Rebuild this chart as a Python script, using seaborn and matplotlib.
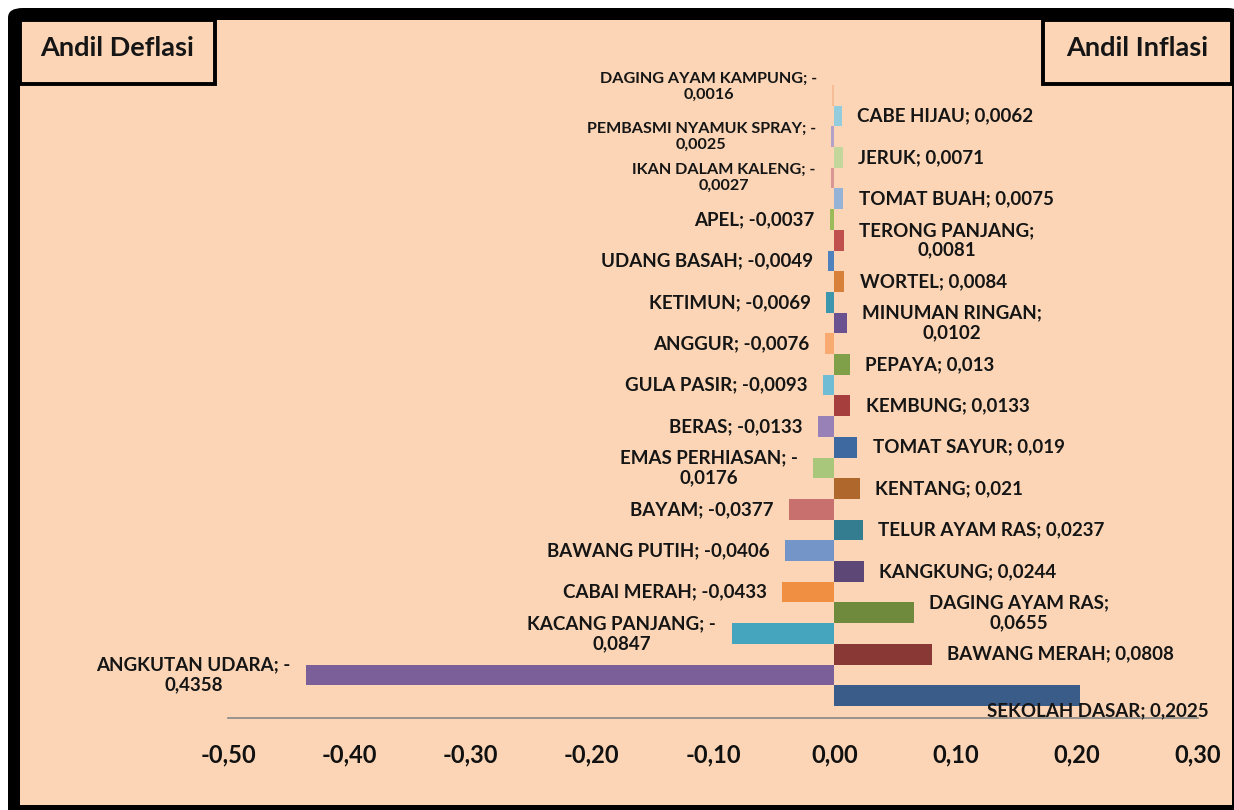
import matplotlib
matplotlib.use("Agg")
from matplotlib import pyplot as plt
from matplotlib.patches import Rectangle, FancyBboxPatch
import seaborn as sns
import pandas as pd

# andil inflasi (positive), top to bottom
infl_names = ["CABE HIJAU", "JERUK", "TOMAT BUAH", "TERONG PANJANG", "WORTEL",
              "MINUMAN RINGAN", "PEPAYA", "KEMBUNG", "TOMAT SAYUR", "KENTANG",
              "TELUR AYAM RAS", "KANGKUNG", "DAGING AYAM RAS", "BAWANG MERAH",
              "SEKOLAH DASAR"]
infl_values = [0.0062, 0.0071, 0.0075, 0.0081, 0.0084, 0.0102, 0.013, 0.0133,
               0.019, 0.021, 0.0237, 0.0244, 0.0655, 0.0808, 0.2025]
infl_colors = ["#93CDDD", "#C3D69B", "#95B3D7", "#C0504D", "#D7803A", "#6A5290",
               "#7FA048", "#A53E3D", "#3E69A0", "#B0672C", "#347D91", "#5C4777",
               "#6F8A3D", "#8A3836", "#3A5C88"]

# andil deflasi (negative), top to bottom
defl_names = ["DAGING AYAM KAMPUNG", "PEMBASMI NYAMUK SPRAY", "IKAN DALAM KALENG",
              "APEL", "UDANG BASAH", "KETIMUN", "ANGGUR", "GULA PASIR", "BERAS",
              "EMAS PERHIASAN", "BAYAM", "BAWANG PUTIH", "CABAI MERAH",
              "KACANG PANJANG", "ANGKUTAN UDARA"]
defl_values = [-0.0016, -0.0025, -0.0027, -0.0037, -0.0049, -0.0069, -0.0076,
               -0.0093, -0.0133, -0.0176, -0.0377, -0.0406, -0.0433, -0.0847,
               -0.4358]
defl_colors = ["#F7BE95", "#B3A2C7", "#D99694", "#9BBB59", "#4F81BD", "#3C97AE",
               "#F9AA70", "#70BCD4", "#9781B7", "#A9C77A", "#C8706D", "#7395C7",
               "#F08E41", "#45A5BE", "#7B5F99"]

x_ticks = [-0.5, -0.4, -0.3, -0.2, -0.1, 0.0, 0.1, 0.2, 0.3]

# labels that Excel wrapped onto two lines / drew smaller
wrapped = {"DAGING AYAM KAMPUNG", "PEMBASMI NYAMUK SPRAY", "IKAN DALAM KALENG",
           "EMAS PERHIASAN", "KACANG PANJANG", "ANGKUTAN UDARA",
           "TERONG PANJANG", "MINUMAN RINGAN", "DAGING AYAM RAS"}
small = {"DAGING AYAM KAMPUNG", "PEMBASMI NYAMUK SPRAY", "IKAN DALAM KALENG"}

# interleave deflasi / inflasi rows
names, values, colors = [], [], []
for i in range(len(infl_names)):
    names += [defl_names[i], infl_names[i]]
    values += [defl_values[i], infl_values[i]]
    colors += [defl_colors[i], infl_colors[i]]
df = pd.DataFrame({"item": names, "value": values})
palette = dict(zip(names, colors))

sns.set_style("white")
plt.rcParams["font.family"] = ["Lato", "DejaVu Sans"]
plt.rcParams["font.weight"] = "bold"

BG = "#FBD5B5"
fig = plt.figure(figsize=(12.34, 8.10), dpi=100, facecolor="white")
W, H = 1234, 810

# outer black frame and peach chart area
fig.patches.append(FancyBboxPatch((8 / W, -0.02), 1.0, (802 / H) + 0.02,
                                  boxstyle="round,pad=0,rounding_size=0.012",
                                  transform=fig.transFigure, facecolor="black",
                                  edgecolor="none", zorder=-3))
fig.patches.append(Rectangle((20 / W, 5 / H), 1212 / W, 785 / H,
                             transform=fig.transFigure, facecolor=BG,
                             edgecolor="none", zorder=-2))

ax = fig.add_axes([228 / W, 92 / H, 970 / W, 633 / H])
ax.set_facecolor("none")
ax.set_zorder(1)

sns.barplot(data=df, x="value", y="item", hue="item", palette=palette,
            orient="h", width=1.0, saturation=1, legend=False, ax=ax,
            linewidth=0, edgecolor="none")

ax.set_xlim(x_ticks[0], x_ticks[-1])
ax.set_ylim(len(names) - 0.5 + 0.58, -0.5)
ax.set_xticks(x_ticks)
ax.set_xticklabels([f"{round(t, 2) + 0.0:.2f}".replace(".", ",") for t in x_ticks],
                   fontsize=17, fontweight="bold")
ax.tick_params(axis="x", direction="out", length=6, width=1.2,
               color="#878787", pad=12, labelcolor="#111111")
ax.set_yticks([])
ax.set_xlabel("")
ax.set_ylabel("")
for s in ["top", "right", "left"]:
    ax.spines[s].set_visible(False)
ax.spines["bottom"].set_color("#878787")
ax.spines["bottom"].set_linewidth(1.2)

# data labels
for row, (name, val) in enumerate(zip(names, values)):
    num = str(abs(val)).replace(".", ",")
    if name in wrapped:
        text = f"{name}; -\n{num}" if val < 0 else f"{name};\n{num}"
    else:
        text = f"{name}; {'-' if val < 0 else ''}{num}"
    size = 11.6 if name in small else 13.5
    dx = -11 if val < 0 else 11
    dy = 0
    ha = "right" if val < 0 else "left"
    if name == "DAGING AYAM KAMPUNG":
        dy = 6
    if name == "SEKOLAH DASAR":
        dx, dy, ha = 93, -11, "right"
    ax.annotate(text, xy=(val, row), xytext=(dx, dy), textcoords="offset points",
                ha=ha, va="center", multialignment="center", fontsize=size,
                fontweight="bold", color="#151515", annotation_clip=False)

# corner boxes
for x0, x1, label in [(20, 215, "Andil Deflasi"), (1043, 1232, "Andil Inflasi")]:
    fig.patches.append(Rectangle((x0 / W, (H - 84) / H), (x1 - x0) / W, 64 / H,
                                 transform=fig.transFigure, facecolor=BG,
                                 edgecolor="black", linewidth=2.8, zorder=3))
    fig.text((x0 + x1) / 2 / W, (H - 48) / H, label, ha="center", va="center",
             fontsize=19.5, fontweight="bold", color="#151515", zorder=4)

fig.savefig("out.png", dpi=100, facecolor=fig.get_facecolor())
